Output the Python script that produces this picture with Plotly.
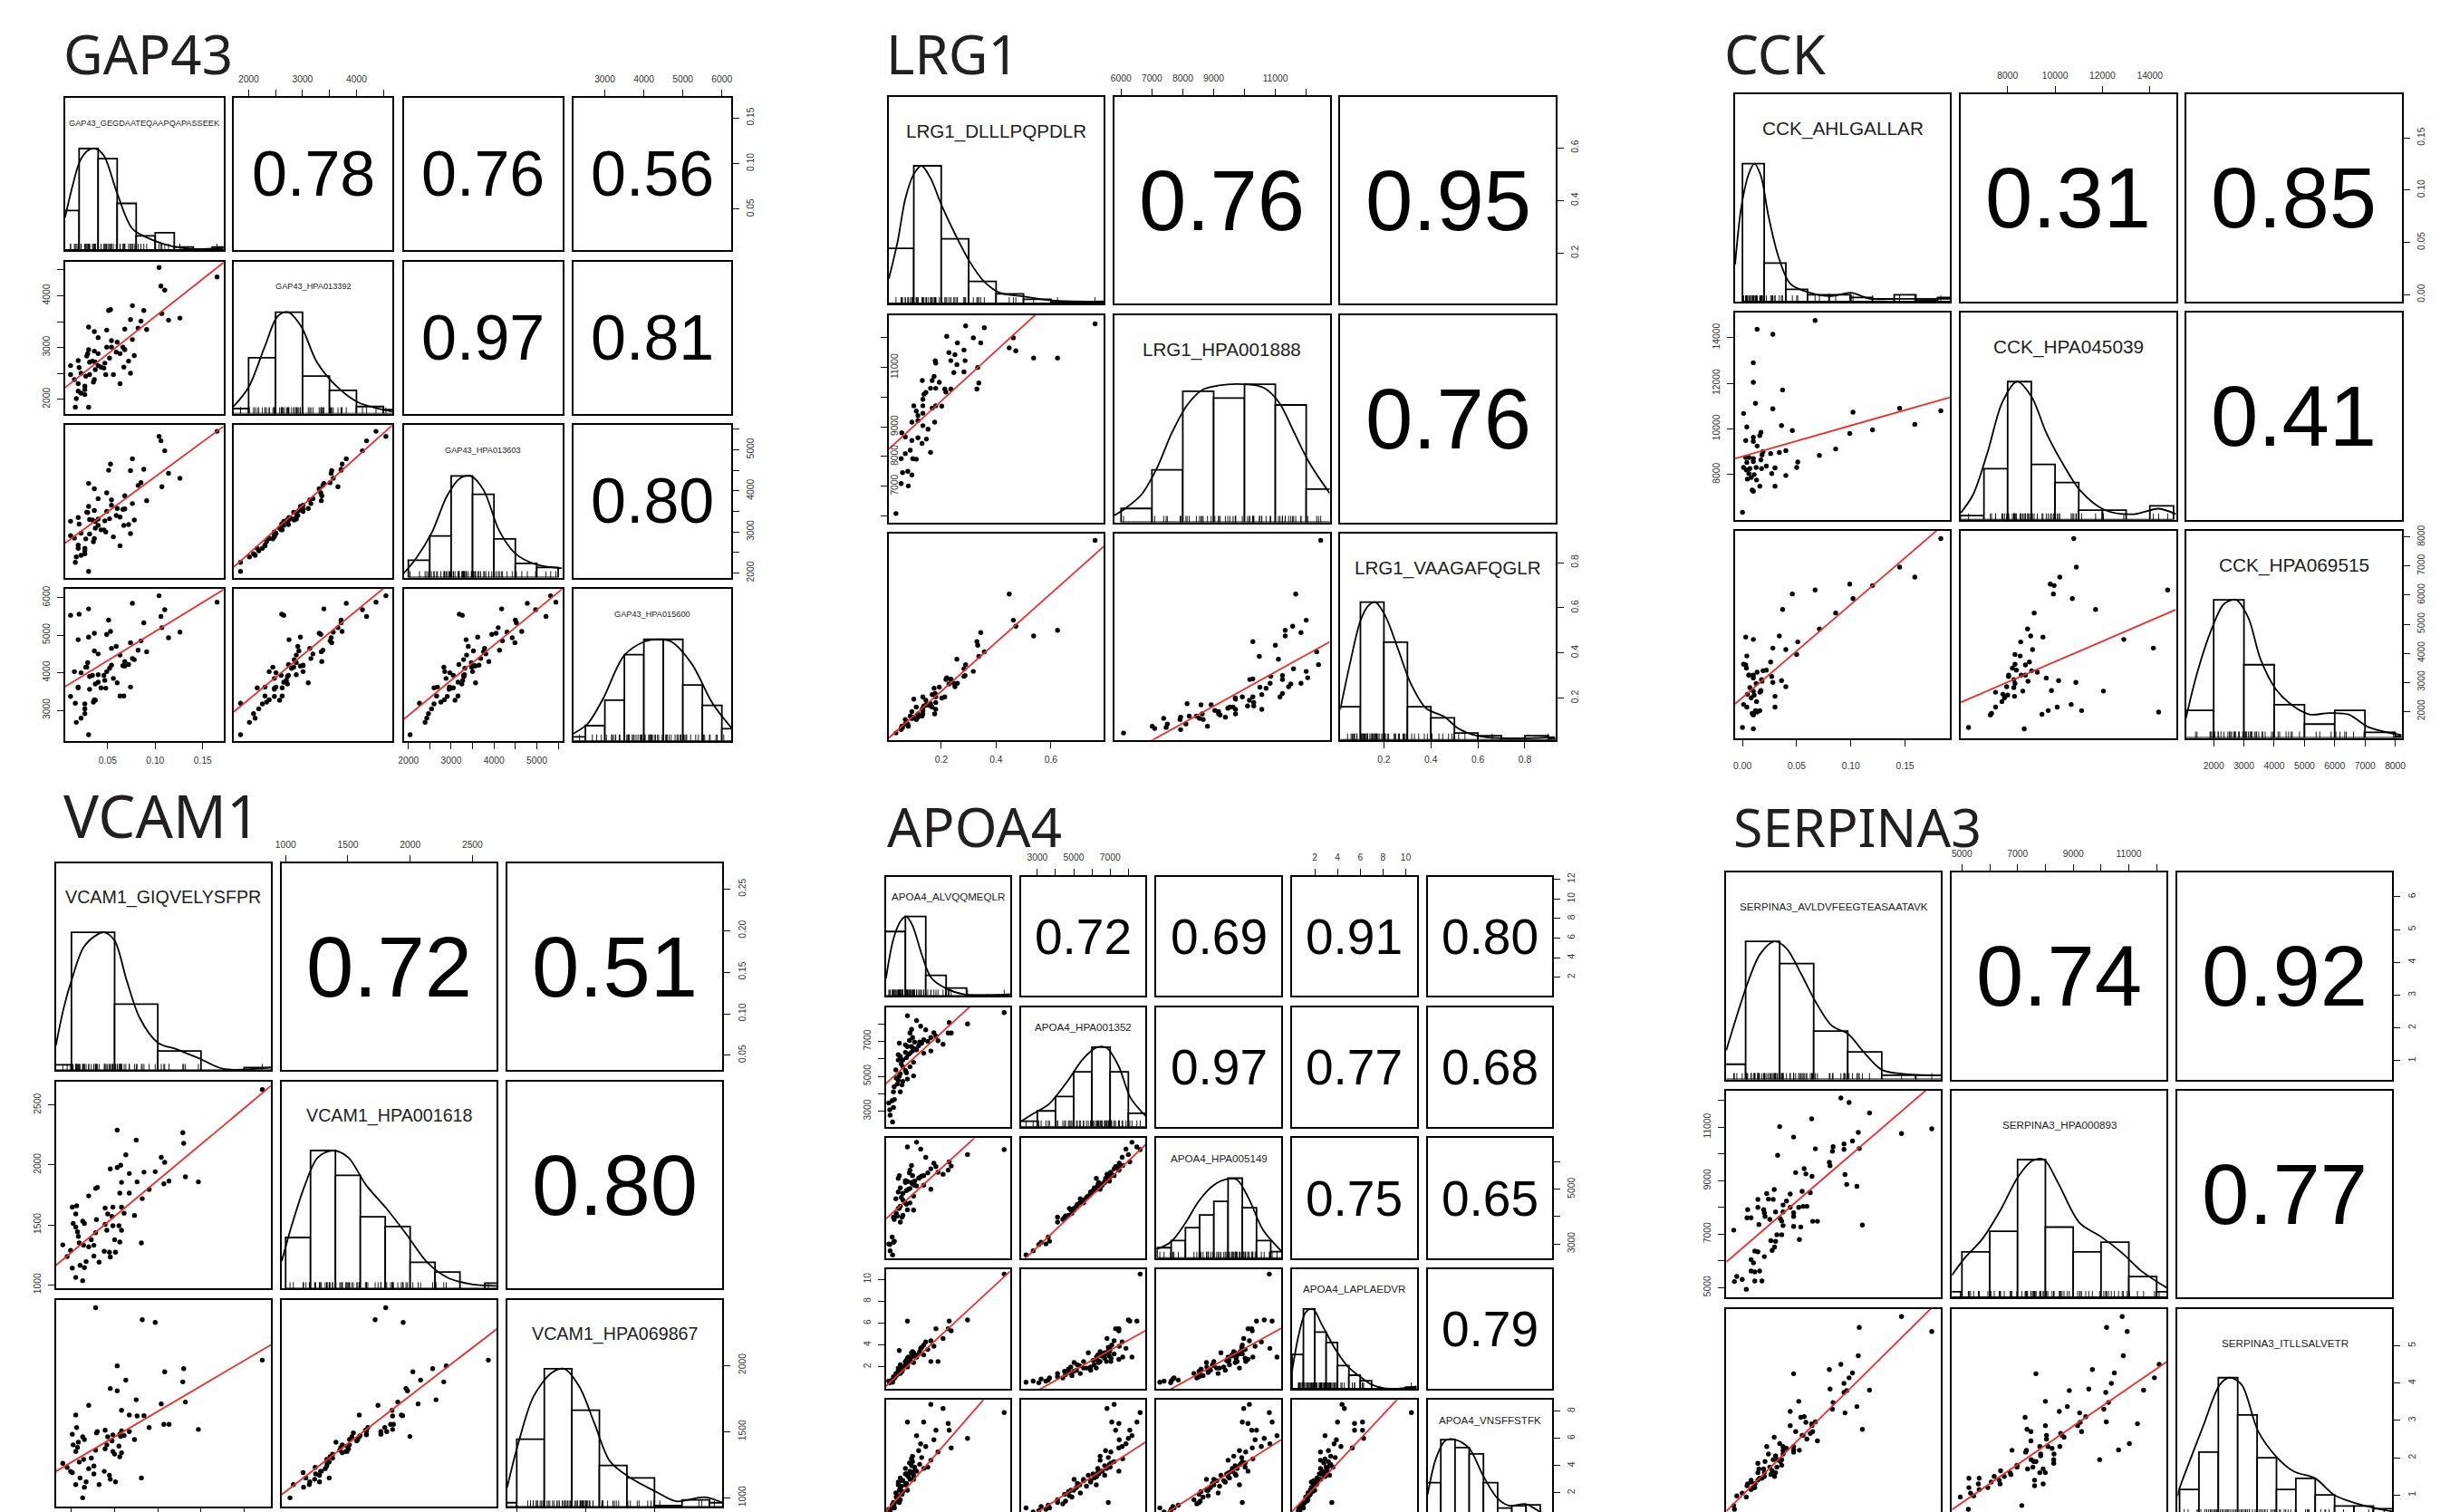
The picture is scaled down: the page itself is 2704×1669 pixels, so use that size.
import plotly.graph_objects as go

W, H = 2704, 1669

# ---------- GAP43 ----------
GAP43_GEGD = [.104,.165,.106,.110,.107,.114,.126,.076,.088,.051,.053,.030,.036,.040,.049,.074,.085,.068,.082,.091,.076,.068,.054,.060,.054,.049,.040,.036,.030,.029,.028,.034,.037,.043,.047,.052,.059,.063,.067,.072,.078,.066,.074,.063,.056,.048,.040,.046,.037,.031,.019,.011,.020,.022,.027,.031,.036,.035,.011,.015,.019,.026,.026,.019,.022,.026,.017,.016,.030]
GAP43_392 = [4546,4362,4188,4111,3657,3531,3570,3811,3715,3715,3734,3396,3309,3193,3338,3541,3512,3357,3377,3348,3155,2961,3135,3106,3010,3010,2884,2932,2961,2884,2836,2739,2720,2623,2700,2797,2913,2884,2623,2739,2845,3010,2507,2304,2478,2478,2652,2604,2575,2720,2749,2652,2614,2507,2449,2478,2382,2333,2478,2382,2304,2256,2189,2160,2121,2092,2015,1850,1850]
GAP43_603 = [5325,5447,5216,4973,4100,4427,4306,4780,4525,4500,4650,4180,4050,3810,3950,4490,4200,3880,4130,3760,3690,3560,3780,3570,3650,3500,3310,3520,3620,3470,3480,3290,3250,3050,3270,3320,3400,3360,3160,3180,3290,3550,2960,2660,2880,3000,3160,3050,3090,3300,3350,3260,3190,2970,2830,2950,2840,2760,2910,2850,2680,2600,2540,2600,2430,2470,2390,2260,2040]
GAP43_600 = [6050,5880,5500,5680,5200,4930,5080,5850,5330,5400,5100,5700,5050,4500,5020,4800,4850,4300,4600,4560,4380,4180,4650,3730,4200,4030,3950,4580,4950,4270,4150,3930,3700,3600,3800,4120,4700,4470,3380,4220,4350,4190,3620,3380,3850,3590,3750,3930,3270,3900,4880,5530,5560,4000,4150,3560,3280,3220,3370,4030,3620,3170,3040,3600,2790,2910,2680,3190,2350]
GAP43_R = ["0.78","0.76","0.56","0.97","0.81","0.80"]
GAP43_LINES = {(2,1):(2227,4642),(3,1):(2728,5568),(3,2):(2145,5595),(4,1):(3627,6213),(4,2):(2960,6440),(4,3):(2760,6230)}

# ---------- LRG1 ----------
LRG1_DLLL = [.761,.624,.537,.448,.463,.472,.357,.289,.220,.317,.344,.259,.283,.228,.250,.235,.257,.287,.178,.180,.333,.283,.246,.337,.330,.174,.167,.131,.193,.180,.161,.144,.137,.213,.217,.235,.133,.180,.202,.167,.133,.100,.109,.133,.115,.093,.115,.133,.152,.176,.056,.069,.093,.115,.146,.130,.161,.087,.069,.054,.096,.109,.059,.078,.093,.054,.080,.035]
LRG1_888 = [12470,11320,11320,11660,12000,11560,12340,12400,12050,12000,11830,11830,11590,11500,11430,11230,11100,11230,11230,11150,11000,10850,10830,10480,10270,10700,10560,10560,10500,10300,10300,10160,10100,10270,10170,10270,9930,9710,9700,9630,9710,9710,9530,9460,9380,9160,9210,9040,8920,9160,8800,8660,8540,8630,8590,8440,8140,8210,8100,7930,7930,7910,7460,7500,7380,7090,7010,6080]
LRG1_VAAG = [.899,.500,.475,.661,.545,.518,.405,.348,.290,.318,.490,.265,.330,.262,.250,.282,.372,.300,.220,.205,.434,.296,.265,.385,.450,.243,.215,.150,.248,.180,.165,.190,.165,.205,.282,.285,.205,.150,.200,.160,.130,.195,.160,.155,.115,.140,.125,.145,.170,.130,.075,.105,.110,.130,.170,.120,.175,.120,.085,.060,.115,.105,.070,.085,.110,.065,.075,.045]
LRG1_R = ["0.76","0.95","0.76"]
LRG1_LINES = {(2,1):(8252,14890),(3,1):(.023,.872),(3,2):(-.08,.449)}

# ---------- CCK ----------
CCK_AHLG = [.067,.0135,.028,.010,.010,.037,.012,.028,.001,.102,.145,.183,.004,.036,.046,.159,.099,.12,.017,.016,.010,.003,.010,.0135,.086,.071,.04,.034,.026,.019,.018,.003,.006,.01,.004,.01,.017,.051,.05,.04,.03,.027,.022,.0176,.0126,.001,.0036,.0068,.0108,.0059,.008,.0045,.013,.016,.03,.009,.01,0]
CCK_039 = [14750,14370,14150,12900,12040,11710,11120,10880,10680,10730,10900,10790,10090,10150,9930,10200,9800,9960,9850,9710,9630,9490,9450,9250,9120,8840,9050,8970,8920,9010,8860,8750,8750,8700,8530,8570,8640,8550,8310,7960,8290,8040,8370,8260,8310,8310,8200,8260,8000,8040,7870,7800,7760,7490,7490,7320,7270,6350]
CCK_515 = [6175,1980,4180,4475,2700,5505,2030,3000,2240,5880,6965,7945,2150,3060,6040,6620,6380,6330,2720,2030,3150,4560,1900,3350,5385,4835,4130,4595,3700,3400,3040,3600,3250,1400,3907,3250,2700,4390,3960,2850,2520,3200,3420,3090,2960,3620,3490,2820,2560,3250,2470,2590,2340,2660,2150,1930,1880,1450]
CCK_R = ["0.31","0.85","0.41"]
CCK_LINES = {(2,1):(8703,11385),(3,1):(2258,8615),(3,2):(2310,5505)}

# ---------- VCAM1 ----------
VCAM_GIQV = [.271,.103,.179,.18,.125,.113,.154,.158,.107,.103,.095,.117,.134,.147,.108,.126,.157,.163,.182,.197,.14,.078,.08,.07,.106,.117,.132,.051,.056,.055,.089,.098,.108,.111,.123,.092,.097,.079,.063,.065,.052,.055,.057,.058,.089,.098,.105,.108,.091,.078,.1,.106,.131,.073,.064,.04,.059,.076,.07,.049,.045,.088,.094,.101,.076,.095,.082,.067,.06,.065,.051,.055,.063]
VCAM_618 = [2628,2290,2270,2181,2208,2084,2064,2022,1998,1979,1967,1929,1940,1944,1855,1859,1843,1866,1901,1859,1796,1804,1812,1742,1765,1765,1719,1649,1660,1591,1641,1649,1649,1598,1579,1591,1571,1544,1532,1513,1513,1482,1443,1404,1505,1493,1493,1455,1455,1435,1377,1357,1350,1377,1330,1334,1350,1330,1318,1287,1237,1280,1272,1272,1241,1233,1190,1194,1163,1144,1140,1062,1035]
VCAM_867 = [2039,1996,1875,1975,1740,1888,1709,1951,1463,1807,1825,1625,1620,2323,1660,1618,1554,1554,1723,1516,1530,2435,1500,1698,1480,1500,2344,1480,1530,1625,1510,1475,1505,1470,1440,1460,1430,1490,1460,1440,1400,1350,1380,1420,1370,1350,1390,1340,1400,1360,1330,1310,1150,1300,1290,1260,1270,1240,1220,1200,1230,1200,1170,1120,1180,1140,1100,1120,1150,1080,1190,1100,1000]
VCAM_R = ["0.72","0.51","0.80"]
VCAM_LINES = {(2,1):(1163,2659),(3,1):(1200,2154),(3,2):(1025,2274)}

# ---------- APOA4 ----------
APOA_ALVQ = [11.7,8.1,6.3,2.2,3.1,3.5,4,2.6,2.45,2.7,4.5,5,6.2,6.5,5.2,5.7,3.8,3.4,2.9,2.2,2.6,3.8,4.5,1.3,1.5,2,2.45,3.1,2.8,1.75,1.06,1.5,2.1,2.8,2.2,1.3,1.75,1.2,1.67,.83,1.5,.7,.92,.37,.83,.46,.5,.74,2.1,1.3,2.45,2,2.9,1.75,1.6,2.3,2.0,2.7,3.3,3.6,4.2,2.4,1.4,1.1,.9,4.8,1.4]
APOA_352 = [8650,8000,8080,8470,8200,7870,7660,7690,7480,7220,7220,7300,7480,7480,7040,6830,7090,6960,6960,6700,6700,6320,6450,6240,6130,6370,6320,6520,5800,5540,5360,5150,5200,5020,4840,4760,4710,4550,4500,4110,4110,3600,3670,3470,3210,3080,2770,2380,6060,5930,5540,5330,6570,5930,5700,6250,6800,6450,6750,6900,7000,7050,5000,4900,4400,7500,6900]
APOA_149 = [6450,6270,6000,6550,6720,6470,6170,5870,5700,5500,5750,5830,5700,5850,5620,5550,5500,5430,5300,5280,5250,5150,5000,5400,5050,5250,5030,5120,4750,4600,4650,4380,4450,4240,4250,4300,4050,4020,3980,3980,3800,3250,3100,3000,3060,2980,2750,2600,4950,4900,4500,4500,5150,4850,4700,5000,5320,5200,5400,5480,5600,5600,4300,4120,3900,5950,5500]
APOA_LAPL = [10.5,6.3,6.2,6.2,2.9,3.7,4.3,2.9,2.7,3.2,4.4,5.5,5.5,5.3,2.5,4.6,4.0,3.4,3.0,2.8,3.3,3.1,2.5,1.9,2.2,2.4,2.6,3.0,3.3,1.9,1.4,1.7,2.2,2.4,2.0,1.5,1.8,1.3,1.6,1.1,1.4,.8,1,.7,.9,.55,.7,.6,2.6,1.7,2.5,2.1,3.1,2.0,1.9,2.9,2.5,3.4,3.2,3.8,3.6,2.8,1.6,1.2,1.0,3.9,3.5]
APOA_VNSF = [7.9,6.0,6.6,7.2,6.2,5.6,5.4,4.5,3.6,4.3,8.5,6.6,7.1,5.3,5.0,8.2,7.2,4.1,3.9,3.3,4.0,3.8,4.4,2.6,3.1,3.4,3.5,3.6,3.3,2.9,2.0,2.4,2.7,3.0,2.2,1.8,2.1,1.4,1.9,1.3,1.5,1.1,.9,.8,1.0,.7,.6,.9,3.4,2.8,3.0,2.6,3.6,2.9,2.5,3.2,3.8,4.7,5.1,4.6,3.9,4.2,2.2,1.7,1.2,5.9,1.3]
APOA_R = ["0.72","0.69","0.91","0.80","0.97","0.77","0.68","0.75","0.65","0.79"]
APOA_LINES = {(2,1):(4580,11100),(3,1):(3917,8067),(3,2):(2317,6633),(4,1):(.25,10.75),(4,2):(-1.0,5.33),(4,3):(-.75,5.54),(5,1):(.63,11.07),(5,2):(-.2,5.73),(5,3):(.07,5.9),(5,4):(.63,10.37)}

# ---------- SERPINA3 ----------
SERP_AVLD = [3.8,4.04,4.64,2.94,2,2.41,4.31,5.58,6.47,4.14,3.89,3.89,3.57,3.55,3.05,4.34,1.94,3.46,3.48,2.72,2.47,2.77,2.95,3.92,3.97,4.27,1.84,1.62,2.31,2.66,2.9,1.36,1.67,1.81,2.2,2.1,1.06,1.36,1.53,1.55,1.88,2.31,2.56,2.69,2.8,2.1,2.41,1.04,1.16,1.57,1.71,2.02,2.41,1.39,2.06,2.1,2.41,2.62,2.97,3.11,4.43,.65,1.92,2.06,1.74,1.88,2.58,1.85,1.78,1.27,1.36,1.55,1.16,1.23,1.16,1.27,1.41,.74,.9,.67,1.27,1.48,1.02]
SERP_893 = [12090,11920,11530,11310,11020,10630,10800,10760,10940,10480,10370,10170,10270,10100,10190,10200,9950,9690,9560,9450,9300,9250,9160,9230,8860,8790,8670,8520,8500,8600,8550,8300,8310,8300,8240,8090,7920,8000,7920,7800,7830,8000,8000,8040,8040,7830,7800,7610,7610,7660,7550,7580,7660,7360,7490,7320,7290,7270,7480,7480,7340,7150,6980,6980,6760,6730,6800,6520,6390,6370,6340,6160,6050,5930,5620,5590,5620,5420,5310,5230,5250,5250,4940]
SERP_ITLL = [4.5,4.14,3.81,2.91,2.38,2.21,4.73,5.78,5.38,4.27,3.99,3.75,3.48,3.3,2.96,5.49,1.95,4.36,3.84,3.1,2.7,2.95,2.86,3.2,3.8,3.37,2.55,2.3,3.24,2.6,2.65,1.85,2.1,1.95,2.25,2.3,1.3,1.6,1.7,1.6,2.05,2.86,3.51,2.6,2.5,2.1,2.3,1.25,1.4,1.9,1.75,1.9,4.25,1.7,1.95,2.2,2.15,3.08,2.7,2.45,2.76,.72,1.75,1.8,1.55,1.6,2.2,1.5,1.65,1.3,1.4,1.5,1.35,1.2,1.15,1.3,1.45,.98,1.05,.62,1.2,1.45,.95]
SERP_R = ["0.74","0.92","0.77"]
SERP_LINES = {(2,1):(5960,12860),(3,1):(.57,6.26),(3,2):(.61,4.57)}

def v(name, values, rng, ticks, labels, edges, bars, dx, dy):
    return dict(name=name, values=values, rng=rng, ticks=ticks, labels=labels,
                edges=edges, bars=bars, dx=dx, dy=dy)

GROUPS = [
 dict(title="GAP43", tx=68, ty=85, tsize=60, rsize=70, lsize=9.2,
  X=[(71.8,246.8),(258,433),(445.5,620.5),(632.6,807)],
  Y=[(108,276),(288.5,456.6),(469.4,637.5),(649.7,817.8)],
  R=GAP43_R, lines=GAP43_LINES, vars=[
  v("GAP43_GEGDAATEQAAPQAPASSEEK",GAP43_GEGD,(.0052,.1719),[.05,.10,.15],["0.05","0.10","0.15"],
    [0,.02,.04,.06,.08,.10,.12,.14,.16,.18],[39,100,90,46,14,17,3,1,3],
    [.0052,.013,.021,.029,.037,.046,.06,.076,.097,.119,.14,.172],[32,63,88,98,100,93,56,21,10,3.5,1,2]),
  v("GAP43_HPA013392",GAP43_392,(1725,4665),[2000,2500,3000,3500,4000,4500],["2000","","3000","","4000",""],
    [1500,2000,2500,3000,3500,4000,4500,5000],[5,55,100,37,23,7,4],
    [1720,2000,2300,2540,2733,2975,3264,3650,4036,4664],[7,26,66,96,100,86,51,26,11,2]),
  v("GAP43_HPA013603",GAP43_603,(1890,5595),[2000,2500,3000,3500,4000,4500,5000,5500],["2000","","3000","","4000","","5000",""],
    [2000,2500,3000,3500,4000,4500,5000,5500],[17,41,100,82,38,14,10],
    [1890,2182,2546,2910,3214,3457,3760,4124,4489,4974,5595],[4,19,44,81,98,100,86,46,24,13,9]),
  v("GAP43_HPA015600",GAP43_600,(2187,6240),[3000,4000,5000,6000],["3000","4000","5000","6000"],
    [2000,2500,3000,3500,4000,4500,5000,5500,6000,6500],[4,15,40,85,100,100,55,35,12],
    [2187,2560,2960,3493,4027,4360,4693,5227,5760,6240],[7,17,42,84,98,100,98,76,37,13]),
 ]),
 dict(title="LRG1", tx=976, ty=85, tsize=60, rsize=94, lsize=20.6, left_inside=True,
  X=[(981,1218.3),(1230,1467.5),(1479.3,1716.7)],
  Y=[(107,335),(348,576.5),(588.7,816.7)],
  R=LRG1_R, lines=LRG1_LINES, vars=[
  v("LRG1_DLLLPQPDLR",LRG1_DLLL,(.009,.793),[.2,.4,.6],["0.2","0.4","0.6"],
    [0,.1,.2,.3,.4,.5,.6,.7,.8],[40,100,47,16,7,3,1,1],
    [.009,.041,.069,.1,.128,.161,.202,.254,.302,.356,.411,.504,.615,.793],[18,45,76,94,100,91,71,49,31,16,8,5,2,1.5]),
  v("LRG1_HPA001888",LRG1_888,(5785,12760),[6000,7000,8000,9000,10000,11000,12000],["6000","7000","8000","9000","","11000",""],
    [6000,7000,8000,9000,10000,11000,12000,13000],[10,38,95,90,100,85,24],
    [5785,6165,6660,7155,7650,8145,8640,9135,9960,10620,11115,11610,12105,12760],[5,10.5,20,39,65,85,96,99,100,97.5,87,65,43,21]),
  v("LRG1_VAAGAFQGLR",LRG1_VAAG,(.0145,.93),[.2,.4,.6,.8],["0.2","0.4","0.6","0.8"],
    [0,.1,.2,.3,.4,.5,.6,.7,.8,.9,1.0],[24,100,71,24,16,5,3,1,3,1],
    [.014,.055,.099,.131,.163,.206,.26,.314,.379,.455,.519,.595,.724,.927],[22,55,86,97,100,90,66,41,23,17,8,3,1,2]),
 ]),
 dict(title="CCK", tx=1901, ty=85, tsize=60, rsize=94, lsize=20.8, bottom_far=True,
  X=[(1915,2152.2),(2164,2401.5),(2412.8,2650.6)],
  Y=[(104.3,333),(345,573.7),(586,814.5)],
  R=CCK_R, lines=CCK_LINES, vars=[
  v("CCK_AHLGALLAR",CCK_AHLG,(-.0068,.1915),[0,.05,.10,.15],["0.00","0.05","0.10","0.15"],
    [0,.02,.04,.06,.08,.10,.12,.14,.16,.18,.20],[100,28,9,5,5,3,2,5,1,3],
    [-.0068,-.001,.006,.011,.017,.024,.033,.044,.06,.082,.1,.118,.141,.159,.192],[27,69,93,100,91,62,33,13,7,4,6.5,2,2,2,2]),
  v("CCK_HPA045039",CCK_039,(6020,15100),[8000,10000,12000,14000],["8000","10000","12000","14000"],
    [6000,7000,8000,9000,10000,11000,12000,13000,14000,15000],[3,37,100,40,27,7,7,0,10],
    [6020,6537,7155,7773,8391,9009,9627,10245,11069,12100,13335,14365,15107],[5,18,49,85,100,89,63,43,21,7,4,8,4]),
  v("CCK_HPA069515",CCK_515,(1090,8210),[2000,3000,4000,5000,6000,7000,8000],["2000","3000","4000","5000","6000","7000","8000"],
    [1000,2000,3000,4000,5000,6000,7000,8000,9000],[20,100,53,24,10,20,4,1],
    [1080,1452,1935,2339,2742,3145,3548,4032,4516,5161,5807,6452,7097,8210],[14,47,79,97,100,87,57,36,25,17,18,17,8,2]),
 ]),
 dict(title="VCAM1", tx=68, ty=929, tsize=65, rsize=94, lsize=19.7, hide_bottom_labels=True,
  X=[(61.7,299),(311,548.3),(560,797.4)],
  Y=[(952.9,1181.4),(1193.8,1422.4),(1434.8,1663.3)],
  R=VCAM_R, lines=VCAM_LINES, vars=[
  v("VCAM1_GIQVELYSFPR",VCAM_GIQV,(.032,.281),[.05,.10,.15,.20,.25],["0.05","0.10","0.15","0.20","0.25"],
    [0,.05,.10,.15,.20,.25,.30],[4,100,48,14,0,2],
    [.032,.041,.05,.064,.079,.088,.1,.114,.129,.15,.173,.2,.226,.281],[18,45,65,89,98,100,94,65,38,20,15,8,1,2]),
  v("VCAM1_HPA001618",VCAM_618,(969,2696),[1000,1500,2000,2500],["1000","1500","2000","2500"],
    [1000,1200,1400,1600,1800,2000,2200,2400,2600,2800],[37,100,82,52,45,19,12,0,4],
    [969,1053,1155,1258,1380,1503,1646,1810,1973,2137,2300,2505,2697],[20,47,75,95,100,95,75,58,39,19,8,3,2]),
  v("VCAM1_HPA069867",VCAM_867,(932,2494),[1000,1500,2000],["1000","1500","2000"],
    [800,1000,1200,1400,1600,1800,2000,2200,2400,2600],[3,49,100,70,30,21,1,5,3],
    [930,1011,1122,1252,1344,1455,1566,1677,1825,2010,2158,2362,2496],[14,46,80,97,100,87,60,33,21,11,4,7,3]),
 ]),
 dict(title="APOA4", tx=977, ty=938, tsize=60, rsize=55, lsize=11.6,
  X=[(977.8,1114.8),(1126.8,1264.4),(1276.4,1414),(1426,1563.5),(1575.6,1713)],
  Y=[(967.6,1099.4),(1112,1243.8),(1256.4,1388.7),(1400.8,1533),(1545.2,1677)],
  R=APOA_R, lines=APOA_LINES, vars=[
  v("APOA4_ALVQQMEQLR",APOA_ALVQ,(.09,12.28),[2,4,6,8,10,12],["2","4","6","8","10","12"],
    [0,2,4,6,8,10,12,14],[81,100,26,10,1,1,2],
    [.09,.83,1.53,2.08,2.68,3.61,4.53,5.92,7.78,12.22],[22,72,94,100,89,52,23,10,2,2]),
  v("APOA4_HPA001352",APOA_352,(2100,8950),[3000,4000,5000,6000,7000,8000],["3000","","5000","","7000",""],
    [2000,3000,4000,5000,6000,7000,8000,9000],[7,20,38,69,100,69,17],
    [2053,2737,3658,4710,5500,6288,6815,7470,8130,8974],[6,16,29,59,85,100,99,76,36,13]),
  v("APOA4_HPA005149",APOA_149,(2483,6867),[3000,4000,5000,6000],["3000","","5000",""],
    [2500,3000,3500,4000,4500,5000,5500,6000,6500,7000],[13,22,38,54,71,100,63,22,8],
    [2483,2983,3483,3983,4483,4983,5317,5733,6233,6867],[11,20,43,72,91,99,98,74,35,9]),
  v("APOA4_LAPLAEDVR",APOA_LAPL,(0,10.96),[2,4,6,8,10],["2","4","6","8","10"],
    [0,1,2,3,4,5,6,7,8,9,10,11],[43,100,71,58,29,17,10,0,0,0,2],
    [0,.58,1.21,1.83,2.67,3.92,4.96,6,7.04,8.7,10.96],[22,67,96,100,79,47,27,15,5,0,3]),
  v("APOA4_VNSFFSTFK",APOA_VNSF,(.07,8.83),[2,4,6,8],["2","4","6","8"],
    [0,1,2,3,4,5,6,7,8,9],[46,100,90,82,46,14,17,18,3],
    [.07,.67,1.33,2,3,4,5,5.83,7,8,8.83],[31,77,99,100,89,54,26,17,19,9,3]),
 ]),
 dict(title="SERPINA3", tx=1911, ty=937, tsize=59, rsize=94, lsize=11.7,
  X=[(1905.2,2142.2),(2154.3,2391.3),(2403.4,2640.4)],
  Y=[(963,1191.5),(1204,1432),(1444.6,1673)],
  R=SERP_R, lines=SERP_LINES, vars=[
  v("SERPINA3_AVLDVFEEGTEASAATAVK",SERP_AVLD,(.43,6.74),[1,2,3,4,5,6],["1","2","3","4","5","6"],
    [0,1,2,3,4,5,6,7],[11,100,84,35,20,3,3],
    [.43,.74,1.09,1.43,1.85,2.2,2.62,3.04,3.53,4.01,4.5,5,5.62,6.72],[21,46,72,91,100,95,77,57,39,33,19,7,4,3]),
  v("SERPINA3_HPA000893",SERP_893,(4640,12360),[5000,6000,7000,8000,9000,10000,11000,12000],["5000","","7000","","9000","","11000",""],
    [4000,5000,6000,7000,8000,9000,10000,11000,12000,13000],[4,33,48,100,51,33,40,15,4],
    [4640,5120,5720,6404,7003,7517,7945,8458,9229,10000,10769,11454,12360],[16,29,42,64,87,99,100,83,54,44,32,19,7]),
  v("SERPINA3_ITLLSALVETR",SERP_ITLL,(.45,5.99),[1,2,3,4,5],["1","2","3","4","5"],
    [.5,1,1.5,2,2.5,3,3.5,4,4.5,5,5.5,6],[19,46,100,73,42,19,27,15,7,7,5],
    [.45,.49,.74,1.11,1.54,1.79,2.1,2.53,3.02,3.45,4,4.49,5.17,5.99],[14,19,38,65,95,100,95,61,42,32,27,15,8,3]),
 ]),
]

DIAG_TOP = 150.0
TICK_FONT = dict(family="Liberation Sans, Arial, sans-serif", size=10.3, color="#333333")
FRAME = dict(showline=True, linecolor="black", linewidth=2, showgrid=False, zeroline=False,
             tickcolor="#111111", tickwidth=1.2, ticklen=7, tickfont=TICK_FONT)

fig = go.Figure()
layout = {}
ann = []
k = 0
for g in GROUPS:
    V = g["vars"]
    n = len(V)
    rvals = iter(g["R"])
    for j in range(n):
        top, bot = g["Y"][j]
        clipped = bot > H
        vis = (H - top) / (bot - top) if clipped else 1.0
        dom_y = [max(0.0, 1 - bot / H), 1 - top / H]
        for i in range(n):
            k += 1
            xa, ya = f"x{k}", f"y{k}"
            left, right = g["X"][i]
            vx, vy = V[i], V[j]
            diag = i == j
            ylo, yhi = (0.0, DIAG_TOP) if diag else vy["rng"]
            y_full = (ylo, yhi)
            if clipped:
                ylo = yhi - (yhi - ylo) * vis

            # axes
            xax = dict(FRAME, domain=[left / W, right / W], range=list(vx["rng"]), anchor=ya,
                       mirror=not clipped, ticks="", showticklabels=False)
            yax = dict(FRAME, domain=dom_y, range=[ylo, yhi], anchor=xa, mirror=True,
                       ticks="", showticklabels=False, tickangle=-90)
            if clipped:
                xax["side"] = "top"
            if j == 0 and i % 2 == 1:
                xax.update(side="top", ticks="outside", showticklabels=True, tickmode="array",
                           tickvals=vx["ticks"], ticktext=vx["labels"], ticklabelstandoff=4)
            if j == n - 1 and i % 2 == 0 and not clipped:
                show = not g.get("hide_bottom_labels")
                xax.update(side="bottom", ticks="outside", showticklabels=show, tickmode="array",
                           tickvals=vx["ticks"], ticktext=vx["labels"],
                           ticklabelstandoff=13 if g.get("bottom_far") else 4)
            if i == n - 1 and j % 2 == 0:
                tv = vy["ticks"]
                if diag:
                    r0, r1 = vy["rng"]
                    tv = [(t - r0) / (r1 - r0) * (y_full[1] - y_full[0]) for t in tv]
                yax.update(side="right", ticks="outside", showticklabels=True, tickmode="array",
                           tickvals=tv, ticktext=vy["labels"], ticklabelstandoff=4)
            if i == 0 and j % 2 == 1:
                yax.update(side="left", ticks="outside", showticklabels=True, tickmode="array",
                           tickvals=vy["ticks"], ticktext=vy["labels"], ticklabelstandoff=4)
                if g.get("left_inside"):
                    yax.update(ticklabelposition="inside", ticklabelstandoff=-3)
            layout[f"xaxis{k}"] = xax
            layout[f"yaxis{k}"] = yax

            cx = (left + right) / 2
            if diag:
                e = vx["edges"]
                fig.add_trace(go.Bar(x=[(a + b) / 2 for a, b in zip(e[:-1], e[1:])], y=vx["bars"],
                                     width=[b - a for a, b in zip(e[:-1], e[1:])],
                                     marker=dict(color="white", line=dict(color="black", width=1.8)),
                                     xaxis=xa, yaxis=ya, showlegend=False, hoverinfo="skip"))
                fig.add_trace(go.Scatter(x=vx["dx"], y=vx["dy"], mode="lines",
                                         line=dict(color="black", width=1.8, shape="spline", smoothing=0.9),
                                         xaxis=xa, yaxis=ya, showlegend=False, hoverinfo="skip"))
                fig.add_trace(go.Scatter(x=vx["values"], y=[0] * len(vx["values"]), mode="markers",
                                         marker=dict(symbol="line-ns", size=10, color="black",
                                                     line=dict(color="black", width=0.9)),
                                         xaxis=xa, yaxis=ya, showlegend=False, hoverinfo="skip"))
                ann.append(dict(text=vx["name"], x=cx / W, y=1 - (top + (bot - top) * 0.166) / H,
                                xref="paper", yref="paper", showarrow=False, xanchor="center", yanchor="middle",
                                font=dict(family="Liberation Sans, Arial, sans-serif", size=g["lsize"], color="#222222")))
            elif i > j:
                # transparent anchor point so the empty panel's frame and ticks are drawn
                fig.add_trace(go.Scatter(x=[vx["rng"][0]], y=[yhi], mode="markers",
                                         marker=dict(size=1, opacity=0),
                                         xaxis=xa, yaxis=ya, showlegend=False, hoverinfo="skip"))
                ann.append(dict(text=next(rvals), x=cx / W, y=1 - (top + (bot - top) * 0.5) / H,
                                xref="paper", yref="paper", showarrow=False, xanchor="center", yanchor="middle",
                                font=dict(family="Liberation Sans, Arial, sans-serif", size=g["rsize"], color="black")))
            else:
                fig.add_trace(go.Scatter(x=vx["values"], y=vy["values"], mode="markers",
                                         marker=dict(color="black", size=5.4),
                                         xaxis=xa, yaxis=ya, showlegend=False, hoverinfo="skip"))
                yl, yr = g["lines"][(j + 1, i + 1)]
                fig.add_trace(go.Scatter(x=list(vx["rng"]), y=[yl, yr], mode="lines",
                                         line=dict(color="#ee2c2c", width=1.8),
                                         xaxis=xa, yaxis=ya, showlegend=False, hoverinfo="skip"))
    ann.append(dict(text=g["title"], x=g["tx"] / W, y=1 - (g["ty"] + 17) / H, xref="paper", yref="paper",
                    showarrow=False, xanchor="left", yanchor="bottom",
                    font=dict(family="Noto Sans, sans-serif", size=g["tsize"], color="#231f20")))

fig.update_layout(width=W, height=H, margin=dict(l=0, r=0, t=0, b=0, pad=0, autoexpand=False),
                  paper_bgcolor="white", plot_bgcolor="white", showlegend=False, barmode="overlay",
                  annotations=ann, **layout)
fig.write_html("out.html", config={"displayModeBar": False},
               post_script="document.body.style.margin='0';document.body.style.overflow='hidden';")
